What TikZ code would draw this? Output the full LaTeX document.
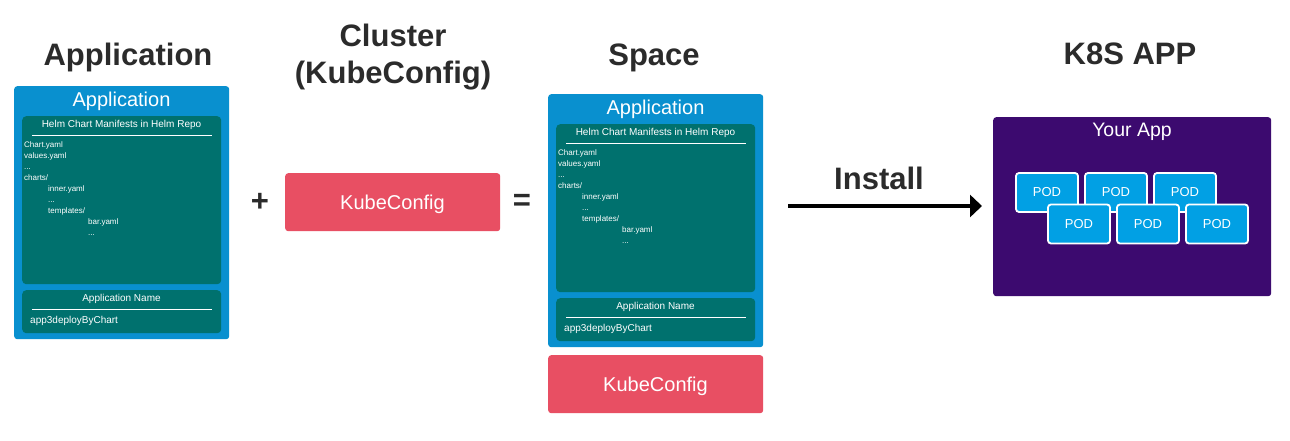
\documentclass[tikz,border=0pt]{standalone}
\usepackage{fontspec}
\setmainfont{Liberation Sans}
\usetikzlibrary{arrows.meta}
\definecolor{hdr}{HTML}{2B2B2B}
\definecolor{appblue}{HTML}{0990CF}
\definecolor{teal}{HTML}{00716E}
\definecolor{kred}{HTML}{E84F63}
\definecolor{kpurple}{HTML}{3C0A6F}
\definecolor{podblue}{HTML}{01A0E4}
\newcommand\myfs[1]{\fontsize{#1}{#1}\selectfont}
\tikzset{
  heading/.style={font=\myfs{31}\bfseries, text=hdr, inner sep=0, anchor=base},
  outerbox/.style={rectangle, rounded corners=3pt, fill=appblue, inner sep=0, anchor=north west},
  innerbox/.style={rectangle, rounded corners=4pt, fill=teal, inner sep=0, anchor=north west},
  redbox/.style={rectangle, rounded corners=3pt, fill=kred, inner sep=0, anchor=north west, minimum width=215pt, minimum height=58pt},
  purplebox/.style={rectangle, rounded corners=3pt, fill=kpurple, inner sep=0, anchor=north west},
  podbox/.style={rectangle, rounded corners=3pt, fill=podblue, draw=white, line width=1.8pt, minimum width=62pt, minimum height=39pt, inner sep=0, text=white, font=\myfs{13}},
  wtext/.style={text=white, inner sep=0},
  filetext/.style={text=white, inner sep=0, anchor=west, font=\myfs{8}, text height=6pt, text depth=2pt},
  sepline/.style={draw=white, line width=0.8pt},
  arrowline/.style={draw=black, line width=4pt, -{Triangle[length=12pt,width=22pt]}},
}
\newcommand\AppBox[3]{%
\begin{scope}[shift={(#2,#3)}]
  \node[outerbox, minimum width=215pt, minimum height=253pt] (#1box) at (0,0) {};
  \node[wtext, font=\myfs{20}] (#1title) at (107.5,15) {Application};
  \node[innerbox, minimum width=199pt, minimum height=168pt] (#1helm) at (8,30) {};
  \node[wtext, font=\myfs{10}] (#1helmtitle) at (107.5,39) {Helm Chart Manifests in Helm Repo};
  \coordinate (#1hlA) at (18,49);
  \coordinate (#1hlB) at (198,49);
  \draw[sepline] (#1hlA) -- (#1hlB);
  \node[filetext] (#1f1) at (10,59.5) {Chart.yaml};
  \node[filetext] (#1f2) at (10,70.5) {values.yaml};
  \node[filetext] (#1f3) at (10,81.5) {...};
  \node[filetext] (#1f4) at (10,92.5) {charts/};
  \node[filetext] (#1f5) at (34,103.5) {inner.yaml};
  \node[filetext] (#1f6) at (34,114.5) {...};
  \node[filetext] (#1f7) at (34,125.5) {templates/};
  \node[filetext] (#1f8) at (74,136.5) {bar.yaml};
  \node[filetext] (#1f9) at (74,147.5) {...};
  \node[innerbox, minimum width=199pt, minimum height=43pt] (#1name) at (8,204) {};
  \node[wtext, font=\myfs{10}] (#1nametitle) at (107.5,213) {Application Name};
  \coordinate (#1nlA) at (18,223);
  \coordinate (#1nlB) at (198,223);
  \draw[sepline] (#1nlA) -- (#1nlB);
  \node[wtext, font=\myfs{10}, anchor=west] (#1nameval) at (16,235) {app3deployByChart};
\end{scope}}
\begin{document}
\begin{tikzpicture}[x=1pt, y=-1pt]
  \useasboundingbox[fill=white] (0,0) rectangle (1290,441);
  % headings
  \node[heading] (hApp) at (128,66) {Application};
  \node[heading] (hCluster1) at (393,47) {Cluster};
  \node[heading] (hCluster2) at (393,84) {(KubeConfig)};
  \node[heading] (hSpace) at (654,66) {Space};
  \node[heading] (hK8s) at (1130,65) {K8S APP};
  % left application
  \AppBox{L}{14}{86}
  % plus, kubeconfig, equals
  \node[heading, anchor=center] (plus) at (260,202) {+};
  \node[redbox] (kcMid) at (285,173) {};
  \node[wtext, font=\myfs{20}] (kcMidText) at (392.5,204) {KubeConfig};
  \node[heading, anchor=center] (equals) at (522,202) {=};
  % space
  \AppBox{S}{548}{94}
  \node[redbox] (kcSpace) at (548,355) {};
  \node[wtext, font=\myfs{20}] (kcSpaceText) at (655.5,386) {KubeConfig};
  % install arrow
  \node[heading] (install) at (879,189) {Install};
  % your app
  \node[purplebox, minimum width=278pt, minimum height=179pt] (yourapp) at (993,117) {};
  \node[wtext, font=\myfs{19.5}] (yourappTitle) at (1132,131.5) {Your App};
  \node[podbox] (pod1) at (1047,192.5) {POD};
  \node[podbox] (pod2) at (1116,192.5) {POD};
  \node[podbox] (pod3) at (1185,192.5) {POD};
  \node[podbox] (pod4) at (1079,224) {POD};
  \node[podbox] (pod5) at (1148,224) {POD};
  \node[podbox] (pod6) at (1217,224) {POD};
  \coordinate (arrowStart) at (788,206);
  \draw[arrowline, shorten >=11pt] (arrowStart) -- (yourapp.west |- arrowStart);
\end{tikzpicture}
\end{document}
